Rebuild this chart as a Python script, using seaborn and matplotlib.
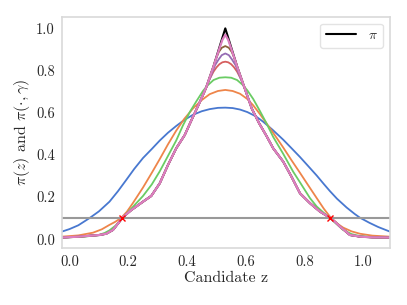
import numpy as np
import pandas as pd
import matplotlib
matplotlib.use("Agg")
import matplotlib.pyplot as plt
import seaborn as sns
from matplotlib.lines import Line2D

# ---- data ----
pi_z = [-0.026, 0.03, 0.102, 0.125, 0.148, 0.182, 0.21, 0.25, 0.278, 0.307, 0.335,
        0.363, 0.392, 0.415, 0.44, 0.465, 0.49, 0.51, 0.53, 0.55, 0.57, 0.595,
        0.62, 0.645, 0.67, 0.693, 0.727, 0.755, 0.784, 0.818, 0.852, 0.886,
        0.905, 0.92, 0.954, 0.99, 1.03, 1.09]
pi_y = [0.008, 0.012, 0.02, 0.026, 0.044, 0.105, 0.138, 0.178, 0.205, 0.265, 0.352,
        0.431, 0.494, 0.565, 0.64, 0.72, 0.82, 0.91, 1.0, 0.91, 0.82, 0.72,
        0.62, 0.55, 0.49, 0.431, 0.368, 0.297, 0.218, 0.171, 0.131, 0.102,
        0.08, 0.06, 0.02, 0.012, 0.009, 0.008]

blue_z = [-0.026, 0.0, 0.03, 0.068, 0.10, 0.136, 0.165, 0.193, 0.22, 0.25, 0.28,
          0.307, 0.335, 0.363, 0.39, 0.42, 0.45, 0.477, 0.505, 0.53, 0.555, 0.58,
          0.605, 0.635, 0.659, 0.69, 0.727, 0.755, 0.784, 0.81, 0.841, 0.865,
          0.886, 0.91, 0.943, 0.97, 0.988, 1.02, 1.05, 1.09]
blue_y = [0.036, 0.048, 0.066, 0.10, 0.132, 0.178, 0.228, 0.281, 0.333, 0.385, 0.428,
          0.468, 0.505, 0.537, 0.565, 0.59, 0.607, 0.617, 0.623, 0.624, 0.622, 0.615,
          0.603, 0.582, 0.557, 0.52, 0.472, 0.432, 0.39, 0.35, 0.302, 0.262,
          0.228, 0.192, 0.15, 0.12, 0.102, 0.078, 0.058, 0.036]

orange_z = [-0.026, 0.03, 0.08, 0.11, 0.136, 0.155, 0.175, 0.195, 0.215, 0.25, 0.28,
            0.307, 0.335, 0.363, 0.39, 0.42, 0.45, 0.477, 0.505, 0.53, 0.555, 0.58,
            0.605, 0.625, 0.647, 0.675, 0.704, 0.727, 0.755, 0.784, 0.81, 0.841,
            0.865, 0.886, 0.91, 0.931, 0.96, 0.988, 1.03, 1.09]
orange_y = [0.012, 0.018, 0.031, 0.047, 0.068, 0.082, 0.10, 0.13, 0.17, 0.245, 0.315,
            0.38, 0.45, 0.515, 0.57, 0.62, 0.66, 0.688, 0.703, 0.708, 0.703, 0.69,
            0.665, 0.635, 0.595, 0.54, 0.482, 0.435, 0.375, 0.315, 0.26, 0.195,
            0.145, 0.107, 0.075, 0.055, 0.037, 0.026, 0.017, 0.012]

green_z = [-0.026, 0.05, 0.10, 0.12, 0.136, 0.16, 0.18, 0.21, 0.25, 0.28, 0.307,
           0.335, 0.363, 0.386, 0.41, 0.432, 0.455, 0.471, 0.49, 0.51, 0.53, 0.55,
           0.57, 0.59, 0.605, 0.625, 0.647, 0.67, 0.693, 0.727, 0.761, 0.784,
           0.818, 0.841, 0.865, 0.886, 0.91, 0.93, 0.96, 0.988, 1.03, 1.09]
green_y = [0.008, 0.012, 0.02, 0.03, 0.042, 0.068, 0.098, 0.145, 0.205, 0.26, 0.322,
           0.395, 0.468, 0.54, 0.605, 0.655, 0.705, 0.731, 0.755, 0.766, 0.768, 0.766,
           0.755, 0.731, 0.706, 0.665, 0.61, 0.55, 0.485, 0.405, 0.32, 0.27,
           0.195, 0.155, 0.125, 0.10, 0.07, 0.045, 0.024, 0.015, 0.01, 0.008]

red_cap_z = [0.46, 0.475, 0.49, 0.50, 0.51, 0.52, 0.53, 0.54, 0.55, 0.56, 0.57, 0.585, 0.60]
red_cap_y = [0.70, 0.755, 0.795, 0.815, 0.83, 0.839, 0.842, 0.839, 0.83, 0.815, 0.795, 0.755, 0.70]
purple_cap_z = [0.48, 0.495, 0.507, 0.518, 0.53, 0.542, 0.553, 0.565, 0.58]
purple_cap_y = [0.77, 0.825, 0.852, 0.873, 0.881, 0.873, 0.852, 0.825, 0.77]
brown_cap_z = [0.495, 0.508, 0.518, 0.53, 0.542, 0.552, 0.565]
brown_cap_y = [0.845, 0.888, 0.908, 0.916, 0.908, 0.888, 0.845]
pink_cap_z = [0.51, 0.52, 0.53, 0.54, 0.55]
pink_cap_y = [0.905, 0.945, 0.97, 0.945, 0.905]

threshold = 0.1
cross_z = [0.18, 0.886]
cross_y = [0.1, 0.1]

# ---- styling ----
sns.set_style("white")
plt.rcParams["font.family"] = ["serif"]
plt.rcParams["font.serif"] = ["cmr10"]
plt.rcParams["mathtext.fontset"] = "cm"
plt.rcParams["axes.formatter.use_mathtext"] = True
plt.rcParams["axes.unicode_minus"] = False

pal = sns.color_palette("muted")

fig = plt.figure(figsize=(4.07, 3.05), dpi=100)
ax = fig.add_axes([0.152, 0.186, 0.806, 0.759])


def capped(cz, cy):
    lo, hi = min(cz), max(cz)
    zs = [z for z in pi_z if z < lo] + list(cz) + [z for z in pi_z if z > hi]
    ys = [y for z, y in zip(pi_z, pi_y) if z < lo] + list(cy) + \
         [y for z, y in zip(pi_z, pi_y) if z > hi]
    return zs, ys


lw = 1.3
sns.lineplot(x=pi_z, y=pi_y, color="black", lw=1.5, ax=ax, sort=False)
curves = [(blue_z, blue_y), (orange_z, orange_y), (green_z, green_y),
          capped(red_cap_z, red_cap_y), capped(purple_cap_z, purple_cap_y),
          capped(brown_cap_z, brown_cap_y), capped(pink_cap_z, pink_cap_y)]
for i, (zs, ys) in enumerate(curves):
    sns.lineplot(x=zs, y=ys, color=pal[i], lw=lw if i < 6 else 1.6, ax=ax, sort=False)

ax.axhline(threshold, color="#999999", lw=1.5)
ax.plot(cross_z, cross_y, "x", color="red", ms=5, mew=1.0)

ax.set_xlim(-0.026, 1.09)
ax.set_ylim(-0.043, 1.055)
ax.set_xticks([0.0, 0.2, 0.4, 0.6, 0.8, 1.0])
ax.set_yticks([0.0, 0.2, 0.4, 0.6, 0.8, 1.0])
ax.set_xticklabels(["0.0", "0.2", "0.4", "0.6", "0.8", "1.0"])
ax.set_yticklabels(["0.0", "0.2", "0.4", "0.6", "0.8", "1.0"])
ax.tick_params(labelsize=10.5, length=0, pad=5)
ax.set_xlabel("Candidate z", fontsize=11.5, labelpad=2)
ax.set_ylabel(r"$\pi(z)$ and $\pi(\cdot,\gamma)$", fontsize=11.5, labelpad=3)
for s in ax.spines.values():
    s.set_color("#d9d9d9")
    s.set_linewidth(1.2)

handle = Line2D([0], [0], color="black", lw=1.5)
leg = ax.legend([handle], [r"$\pi$"], loc="upper right", fontsize=10,
                frameon=True, handlelength=2.2, borderpad=0.4)
leg.get_frame().set_edgecolor("#dddddd")

fig.savefig("out.png", dpi=100)
